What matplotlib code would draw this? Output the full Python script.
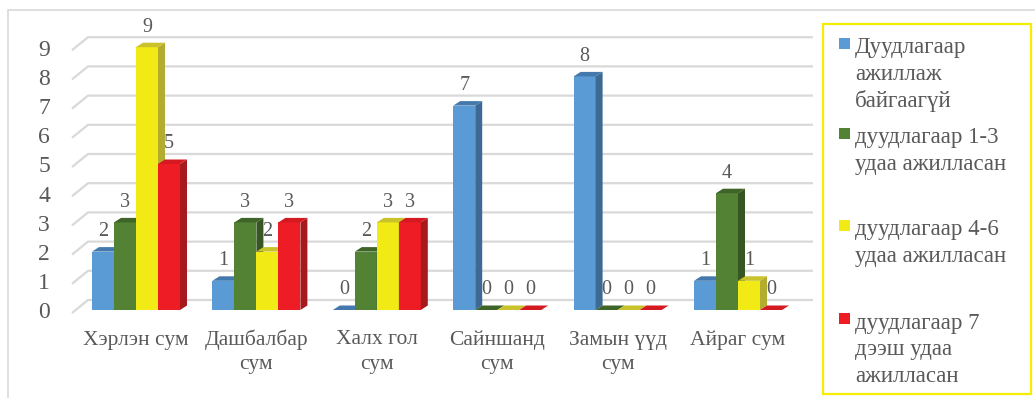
import matplotlib
matplotlib.use("Agg")
from matplotlib import pyplot as plt
from matplotlib.patches import Polygon, Rectangle

plt.rcParams['font.family'] = ['Liberation Serif', 'DejaVu Serif']

categories = ['Хэрлэн сум', 'Дашбалбар\nсум', 'Халх гол\nсум', 'Сайншанд\nсум', 'Замын үүд\nсум', 'Айраг сум']
never = [2, 1, 0, 7, 8, 1]
times_1_3 = [3, 3, 2, 0, 0, 4]
times_4_6 = [9, 2, 3, 0, 0, 1]
times_7 = [5, 3, 3, 0, 0, 0]
series_names = ['Дуудлагаар\nажиллаж\nбайгаагүй',
                'дуудлагаар 1-3\nудаа ажилласан',
                'дуудлагаар 4-6\nудаа ажилласан',
                'дуудлагаар 7\nдээш удаа\nажилласан']
y_ticks = list(range(10))

front = ['#5B9BD5', '#548235', '#F2EA14', '#EE1C24']
side = ['#3C6A95', '#375623', '#B2AD2E', '#A61A1D']
top = ['#4479AD', '#3E6428', '#C9C22A', '#D41A20']
text_col = '#595959'
grid_col = '#D9D9D9'

W, H = 1035, 398
fig = plt.figure(figsize=(W / 100, H / 100), dpi=100)
fig.patch.set_facecolor('white')
ax = fig.add_axes([0, 0, 1, 1])

# pixel -> data helpers (category spacing / value scale)
sx, x0 = 120.4, 136
sy, y0 = 29.2, 310
ax.set_xlim(-x0 / sx, (W - x0) / sx)
ax.set_ylim(-(H - y0) / sy, y0 / sy)
ax.axis('off')
px = lambda p: (p - x0) / sx
dxp = lambda d: d / sx
dyp = lambda d: d / sy

# outer chart frame
fig.add_artist(Rectangle((8 / W, -0.1), 1.2, 1 - 10 / H + 0.1, transform=fig.transFigure,
                         fill=False, edgecolor=grid_col, lw=1.2))

# back wall gridlines with perspective stubs
for v in y_ticks:
    ax.plot([px(72), px(88), px(813)], [v - dyp(3), v + dyp(10), v + dyp(10)],
            color=grid_col, lw=1.6, zorder=1, solid_capstyle='butt')
    ax.text(px(44), v - dyp(3), str(v), ha='center', va='center',
            fontsize=17, color=text_col)

w = 22 / sx
ddx, ddy = dxp(7), dyp(4.5)
all_series = [never, times_1_3, times_4_6, times_7]
for i in range(len(categories)):
    for j, vals in enumerate(all_series):
        v = vals[i]
        xc = i + (j - 1.5) * w
        z = 3 + i * 10 + j
        ax.bar(xc, v, width=w, color=front[j], zorder=z, linewidth=0)
        ax.add_patch(Polygon([(xc + w / 2, 0), (xc + w / 2 + ddx, ddy),
                              (xc + w / 2 + ddx, v + ddy), (xc + w / 2, v)],
                             closed=True, facecolor=side[j], lw=0, zorder=z))
        ax.add_patch(Polygon([(xc - w / 2, v), (xc - w / 2 + ddx, v + ddy),
                              (xc + w / 2 + ddx, v + ddy), (xc + w / 2, v)],
                             closed=True, facecolor=top[j], lw=0, zorder=z))
        ax.text(xc, v + dyp(20), str(v), ha='center', va='center',
                fontsize=14.5, color=text_col, zorder=100)
    for k, line in enumerate(categories[i].split('\n')):
        ax.text(i, -dyp(30 + 25 * k), line, ha='center', va='center',
                fontsize=15.5, color=text_col)

# legend box
fig.add_artist(Rectangle((823 / W, 1 - 394 / H), 208 / W, 370 / H, transform=fig.transFigure,
                         fill=False, edgecolor='#F5EE00', lw=1.6))
first_line = [48, 138, 230, 323]
for j, name in enumerate(series_names):
    yc = first_line[j]
    fig.add_artist(Rectangle((839 / W, 1 - (yc + 1) / H), 11 / W, 11 / H,
                             transform=fig.transFigure, facecolor=front[j], lw=0))
    for k, line in enumerate(name.split('\n')):
        fig.text(855 / W, 1 - (yc + 26.5 * k) / H, line, ha='left', va='center',
                 fontsize=16.5, color=text_col)

plt.savefig('out.png', dpi=100)
